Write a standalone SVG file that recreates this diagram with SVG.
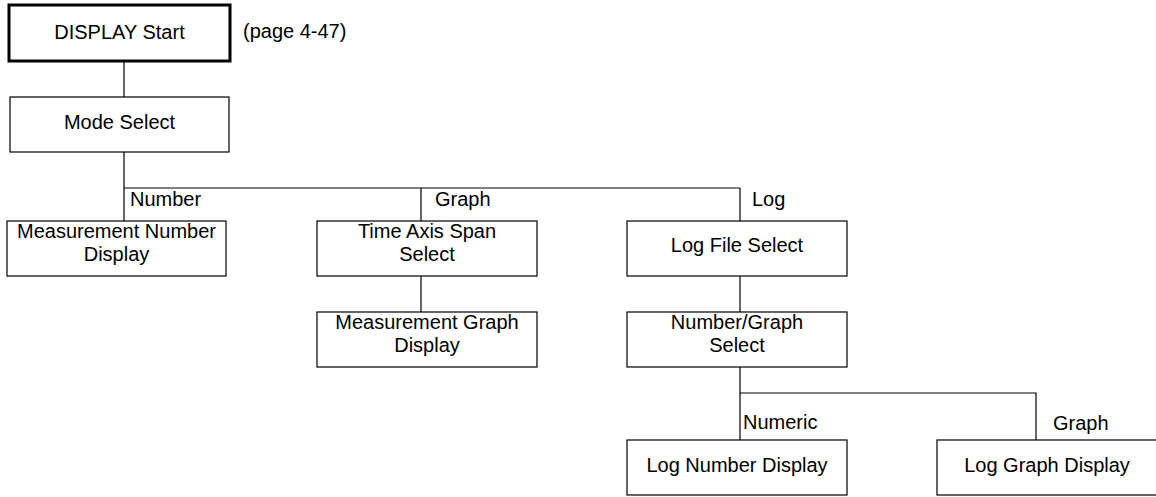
<svg xmlns="http://www.w3.org/2000/svg" width="1156" height="497" viewBox="0 0 1156 497">
<style>
.box{fill:#fff;stroke:#000;stroke-width:1.2}
.start{fill:#fff;stroke:#000;stroke-width:3}
.t{font-family:"Liberation Sans",Arial,sans-serif;font-size:20px;fill:#000}
.c{text-anchor:middle}
.ln{fill:none;stroke:#000;stroke-width:1.2}
</style>
<rect width="1156" height="497" fill="#fff"/>
<g id="connectors">
<path class="ln" d="M124 61V97M124 152V188H740M124 188V221M421 188V221M740 188V221M421 276V312M740 276V312M740 367V393H1036V440M740 393V440"/>
</g>
<g id="label-number"><text class="t" x="130" y="206">Number</text></g>
<g id="label-graph"><text class="t" x="435" y="206">Graph</text></g>
<g id="label-log"><text class="t" x="752" y="206">Log</text></g>
<g id="label-numeric"><text class="t" x="743" y="429">Numeric</text></g>
<g id="label-graph2"><text class="t" x="1053" y="430">Graph</text></g>
<g id="page-ref"><text class="t" x="243" y="38">(page 4-47)</text></g>
<g id="display-start"><rect class="start" x="9" y="5" width="221" height="56"/><text class="t c" x="119.5" y="39">DISPLAY Start</text></g>
<g id="mode-select"><rect class="box" x="10" y="97" width="219" height="55"/><text class="t c" x="119.5" y="129">Mode Select</text></g>
<g id="measurement-number-display"><rect class="box" x="7" y="221" width="219" height="55"/><text class="t c" x="116.5" y="238">Measurement Number</text><text class="t c" x="116.5" y="261">Display</text></g>
<g id="time-axis-span-select"><rect class="box" x="317" y="221" width="220" height="55"/><text class="t c" x="427" y="238">Time Axis Span</text><text class="t c" x="427" y="261">Select</text></g>
<g id="measurement-graph-display"><rect class="box" x="317" y="312" width="220" height="55"/><text class="t c" x="427" y="329">Measurement Graph</text><text class="t c" x="427" y="352">Display</text></g>
<g id="log-file-select"><rect class="box" x="627" y="221" width="220" height="55"/><text class="t c" x="737" y="252">Log File Select</text></g>
<g id="number-graph-select"><rect class="box" x="627" y="312" width="220" height="55"/><text class="t c" x="737" y="329">Number/Graph</text><text class="t c" x="737" y="352">Select</text></g>
<g id="log-number-display"><rect class="box" x="627" y="440" width="220" height="55"/><text class="t c" x="737" y="472">Log Number Display</text></g>
<g id="log-graph-display"><rect class="box" x="937" y="440" width="220" height="55"/><text class="t c" x="1047" y="472">Log Graph Display</text></g>
</svg>
